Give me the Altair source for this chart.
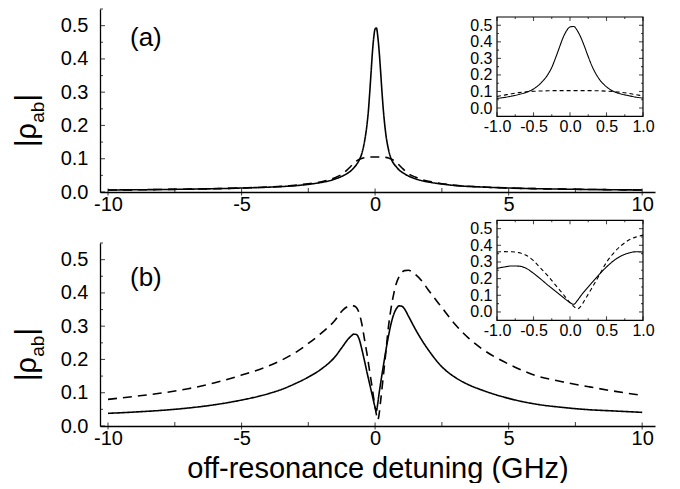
import altair as alt
import pandas as pd

FONT = "Liberation Sans"

# ---------------- data ----------------
# panel (a)
x_a = [-10, -9, -8, -7, -6, -5, -4, -3, -2.5, -2, -1.75, -1.5, -1.25, -1.0,
       -0.9, -0.8, -0.7, -0.6, -0.5, -0.4, -0.3, -0.25, -0.2, -0.15, -0.1, -0.05,
       0.0, 0.05, 0.1, 0.15, 0.2, 0.25, 0.3, 0.4, 0.5, 0.6, 0.7, 0.8, 0.9, 1.0,
       1.25, 1.5, 1.75, 2, 2.5, 3, 4, 5, 6, 7, 8, 9, 10]
solid_a = [0.006, 0.0066, 0.0075, 0.0085, 0.0098, 0.012, 0.0145, 0.019,
           0.023, 0.029, 0.033, 0.039, 0.047, 0.058,
           0.064, 0.072, 0.082, 0.095, 0.115, 0.15, 0.205,
           0.245, 0.30, 0.36, 0.42, 0.465,
           0.49,
           0.493, 0.468, 0.425, 0.37, 0.31, 0.255,
           0.175, 0.128, 0.1, 0.085, 0.075, 0.066, 0.06,
           0.048, 0.04, 0.034, 0.03, 0.024, 0.0195,
           0.015, 0.012, 0.01, 0.0086, 0.0076, 0.0067, 0.006]
dashed_a = [0.006, 0.0066, 0.0075, 0.0086, 0.01, 0.012, 0.015, 0.02,
            0.025, 0.031, 0.036, 0.043, 0.053, 0.07,
            0.078, 0.086, 0.093, 0.098, 0.101, 0.103, 0.104,
            0.105, 0.105, 0.105, 0.105, 0.105,
            0.105,
            0.105, 0.105, 0.105, 0.105, 0.105, 0.105,
            0.104, 0.102, 0.099, 0.095, 0.089, 0.081, 0.073,
            0.055, 0.045, 0.037, 0.032, 0.025, 0.02,
            0.015, 0.012, 0.01, 0.0087, 0.0077, 0.0068, 0.006]

# panel (b)
x_b = [-10, -9, -8, -7, -6, -5, -4, -3.5, -3, -2.5, -2, -1.5, -1.25, -1.0,
       -0.9, -0.8, -0.7, -0.6, -0.5, -0.4, -0.3, -0.2, -0.1,
       -0.05, 0.0, 0.05, 0.1, 0.15, 0.2,
       0.3, 0.4, 0.5, 0.6, 0.7, 0.8, 0.9, 1.0,
       1.1, 1.25, 1.5, 1.75, 2, 2.5, 3, 3.5, 4,
       5, 6, 7, 8, 9, 10]
solid_b = [0.038, 0.042, 0.047, 0.054, 0.064, 0.078, 0.097,
           0.11, 0.127, 0.147, 0.172, 0.208, 0.235, 0.262,
           0.27, 0.276, 0.275, 0.262, 0.232, 0.197, 0.16, 0.125, 0.09,
           0.072, 0.056, 0.046, 0.068, 0.098, 0.125,
           0.176, 0.225, 0.27, 0.308, 0.336, 0.353, 0.361, 0.36,
           0.352, 0.33, 0.292, 0.258, 0.228, 0.178, 0.146, 0.124, 0.108,
           0.083, 0.066, 0.056, 0.049, 0.045, 0.041]
dashed_b = [0.08, 0.089, 0.099, 0.112, 0.13, 0.153, 0.18,
            0.198, 0.22, 0.248, 0.28, 0.318, 0.345, 0.36,
            0.362, 0.361, 0.356, 0.34, 0.308, 0.262, 0.215, 0.162, 0.11,
            0.082, 0.056, 0.034, 0.018, 0.035, 0.07,
            0.144, 0.22, 0.298, 0.355, 0.398, 0.43, 0.449, 0.461,
            0.467, 0.468, 0.456, 0.436, 0.408, 0.356, 0.305, 0.264, 0.232,
            0.186, 0.152, 0.133, 0.118, 0.104, 0.092]

# tick values
main_x_major = [-10, -5, 0, 5, 10]
main_x_minor = [-7.5, -2.5, 2.5, 7.5]
main_y_major = [0.0, 0.1, 0.2, 0.3, 0.4, 0.5]
main_y_minor = [0.05, 0.15, 0.25, 0.35, 0.45, 0.55]
in_x_major = [-1.0, -0.5, 0.0, 0.5, 1.0]
in_x_minor = [-0.75, -0.25, 0.25, 0.75]
in_y_major = [0.0, 0.1, 0.2, 0.3, 0.4, 0.5]
in_y_minor = [0.05, 0.15, 0.25, 0.35, 0.45]

MAIN_X_DOM = [-10.3, 10.48]
MAIN_Y_DOM = [0.0, 0.55]
IN_X_DOM = [-1.0, 1.0]
IN_Y_DOM = [-0.05, 0.55]

W, H = 555, 183
IN_X_RANGE = [397, 543]


def long_df(x, s, d):
    rows = []
    for xi, si, di in zip(x, s, d):
        rows.append({"x": xi, "y": si, "kind": "solid"})
        rows.append({"x": xi, "y": di, "kind": "dashed"})
    return pd.DataFrame(rows)


def lab_expr(fmt):
    return "(datum.value < 0 ? '-' : '') + format(abs(datum.value), '%s')" % fmt


def mx():
    return alt.Scale(domain=MAIN_X_DOM, range=[0, W], nice=False, zero=False)


def my():
    return alt.Scale(domain=MAIN_Y_DOM, range=[H, 0], nice=False, zero=False)


def ix():
    return alt.Scale(domain=IN_X_DOM, range=IN_X_RANGE, nice=False, zero=False)


def iy(rng):
    return alt.Scale(domain=IN_Y_DOM, range=rng, nice=False, zero=False)


def tick_layer(values, const, const_on, orient, size, offset, xs, ys):
    df = pd.DataFrame({"v": values, "c": [const] * len(values)})
    kw = dict(orient=orient, size=size, thickness=1.1, color="black")
    if const_on == "x":
        kw["xOffset"] = offset
        enc = dict(x=alt.X("c:Q", scale=xs, axis=None), y=alt.Y("v:Q", scale=ys, axis=None))
    else:
        kw["yOffset"] = offset
        enc = dict(x=alt.X("v:Q", scale=xs, axis=None), y=alt.Y("c:Q", scale=ys, axis=None))
    return alt.Chart(df).mark_tick(**kw).encode(**enc)


def text_layer(txt, x, y, size, angle=0):
    kw = dict(fontSize=size, font=FONT, color="black", align="left", baseline="alphabetic")
    if angle:
        kw["angle"] = angle
    return alt.Chart(pd.DataFrame({"t": [txt]})).mark_text(**kw).encode(
        x=alt.value(x), y=alt.value(y), text="t:N")


def panel(df, label, label_y, in_y_range, show_title):
    xaxis_kw = dict(orient="bottom", values=main_x_major, labelExpr=lab_expr("d"), ticks=False,
                    tickSize=0, grid=False, domainColor="black", domainWidth=1.3,
                    labelFontSize=20, labelFont=FONT, labelColor="black", labelPadding=2,
                    labelFlush=False, labelOverlap=False)
    if show_title:
        xaxis_kw.update(title="off-resonance detuning (GHz)", titleFontSize=29, titleFont=FONT,
                        titleFontWeight="normal", titleColor="black", titleY=51,
                        titleBaseline="alphabetic")
    else:
        xaxis_kw["title"] = None
    yaxis = alt.Axis(orient="left", values=main_y_major, labelExpr=lab_expr(".1f"), ticks=False,
                     tickSize=0, grid=False, domainColor="black", domainWidth=1.3,
                     labelFontSize=20, labelFont=FONT, labelColor="black", labelPadding=12,
                     title=None, labelFlush=False, labelOverlap=False)
    curves = alt.Chart(df).mark_line(color="black", strokeWidth=1.6, interpolate="monotone").encode(
        x=alt.X("x:Q", scale=mx(), axis=alt.Axis(**xaxis_kw)),
        y=alt.Y("y:Q", scale=my(), axis=yaxis),
        strokeDash=alt.StrokeDash("kind:N", scale=alt.Scale(domain=["solid", "dashed"],
                                                            range=[[1, 0], [9, 6]]), legend=None),
    )

    frame = alt.Chart(pd.DataFrame({"x0": [IN_X_DOM[0]], "x1": [IN_X_DOM[1]],
                                    "y0": [IN_Y_DOM[0]], "y1": [IN_Y_DOM[1]]})).mark_rect(
        fill="white", stroke="black", strokeWidth=1.2).encode(
        x=alt.X("x0:Q", scale=ix(), axis=None), x2="x1:Q",
        y=alt.Y("y0:Q", scale=iy(in_y_range), axis=None), y2="y1:Q")
    in_xaxis = alt.Axis(orient="bottom", offset=in_y_range[0] - H, values=in_x_major,
                        labelExpr=lab_expr(".1f"), domain=False, ticks=False, tickSize=0,
                        grid=False, labelFontSize=16, labelFont=FONT, labelColor="black",
                        labelPadding=2, labelFlush=False, labelOverlap=False, title=None)
    in_yaxis = alt.Axis(orient="left", offset=-IN_X_RANGE[0], values=in_y_major,
                        labelExpr=lab_expr(".1f"), domain=False, ticks=False, tickSize=0,
                        grid=False, labelFontSize=16, labelFont=FONT, labelColor="black",
                        labelPadding=5, labelFlush=False, labelOverlap=False, title=None)
    in_curves = alt.Chart(df).transform_filter(
        "datum.x >= -1 && datum.x <= 1").mark_line(
        color="black", strokeWidth=1.1, interpolate="monotone").encode(
        x=alt.X("x:Q", scale=ix(), axis=in_xaxis),
        y=alt.Y("y:Q", scale=iy(in_y_range), axis=in_yaxis),
        strokeDash=alt.StrokeDash("kind:N", scale=alt.Scale(domain=["solid", "dashed"],
                                                            range=[[1, 0], [4, 3]]), legend=None),
    )

    layers = [
        curves,
        tick_layer(main_y_major, MAIN_X_DOM[0], "x", "horizontal", 5, 2.5, mx(), my()),
        tick_layer(main_y_minor, MAIN_X_DOM[0], "x", "horizontal", 3, 1.5, mx(), my()),
        tick_layer(main_x_major, MAIN_Y_DOM[0], "y", "vertical", 7, 0, mx(), my()),
        tick_layer(main_x_minor, MAIN_Y_DOM[0], "y", "vertical", 4, -2, mx(), my()),
        text_layer("|ρ", -64, 138, 29, 270),
        text_layer("ab", -56, 113.7, 19, 270),
        text_layer("|", -64, 92.5, 29, 270),
        text_layer(label, 30, label_y, 26),
        frame,
        in_curves,
        tick_layer(in_x_major, IN_Y_DOM[0], "y", "vertical", 4, -2, ix(), iy(in_y_range)),
        tick_layer(in_x_minor, IN_Y_DOM[0], "y", "vertical", 2, -1, ix(), iy(in_y_range)),
        tick_layer(in_x_major, IN_Y_DOM[1], "y", "vertical", 4, 2, ix(), iy(in_y_range)),
        tick_layer(in_x_minor, IN_Y_DOM[1], "y", "vertical", 2, 1, ix(), iy(in_y_range)),
        tick_layer(in_y_major, IN_X_DOM[0], "x", "horizontal", 4, 2, ix(), iy(in_y_range)),
        tick_layer(in_y_minor, IN_X_DOM[0], "x", "horizontal", 2, 1, ix(), iy(in_y_range)),
        tick_layer(in_y_major, IN_X_DOM[1], "x", "horizontal", 4, -2, ix(), iy(in_y_range)),
        tick_layer(in_y_minor, IN_X_DOM[1], "x", "horizontal", 2, -1, ix(), iy(in_y_range)),
    ]
    return alt.layer(*layers).resolve_scale(
        x="independent", y="independent", strokeDash="independent").resolve_axis(
        x="independent", y="independent").properties(width=W, height=H)


df_a = long_df(x_a, solid_a, dashed_a)
df_b = long_df(x_b, solid_b, dashed_b)

pa = panel(df_a, "(a)", 37, [107.3, 8.0], False)
pb = panel(df_b, "(b)", 43, [77.3, -22.7], True)

chart = alt.vconcat(pa, pb, spacing=5).properties(
    padding={"left": 5, "top": 0, "right": 5, "bottom": 0}, background="white"
).configure_view(strokeWidth=0)

chart.save("out.html", embed_options={"renderer": "svg", "actions": False})
